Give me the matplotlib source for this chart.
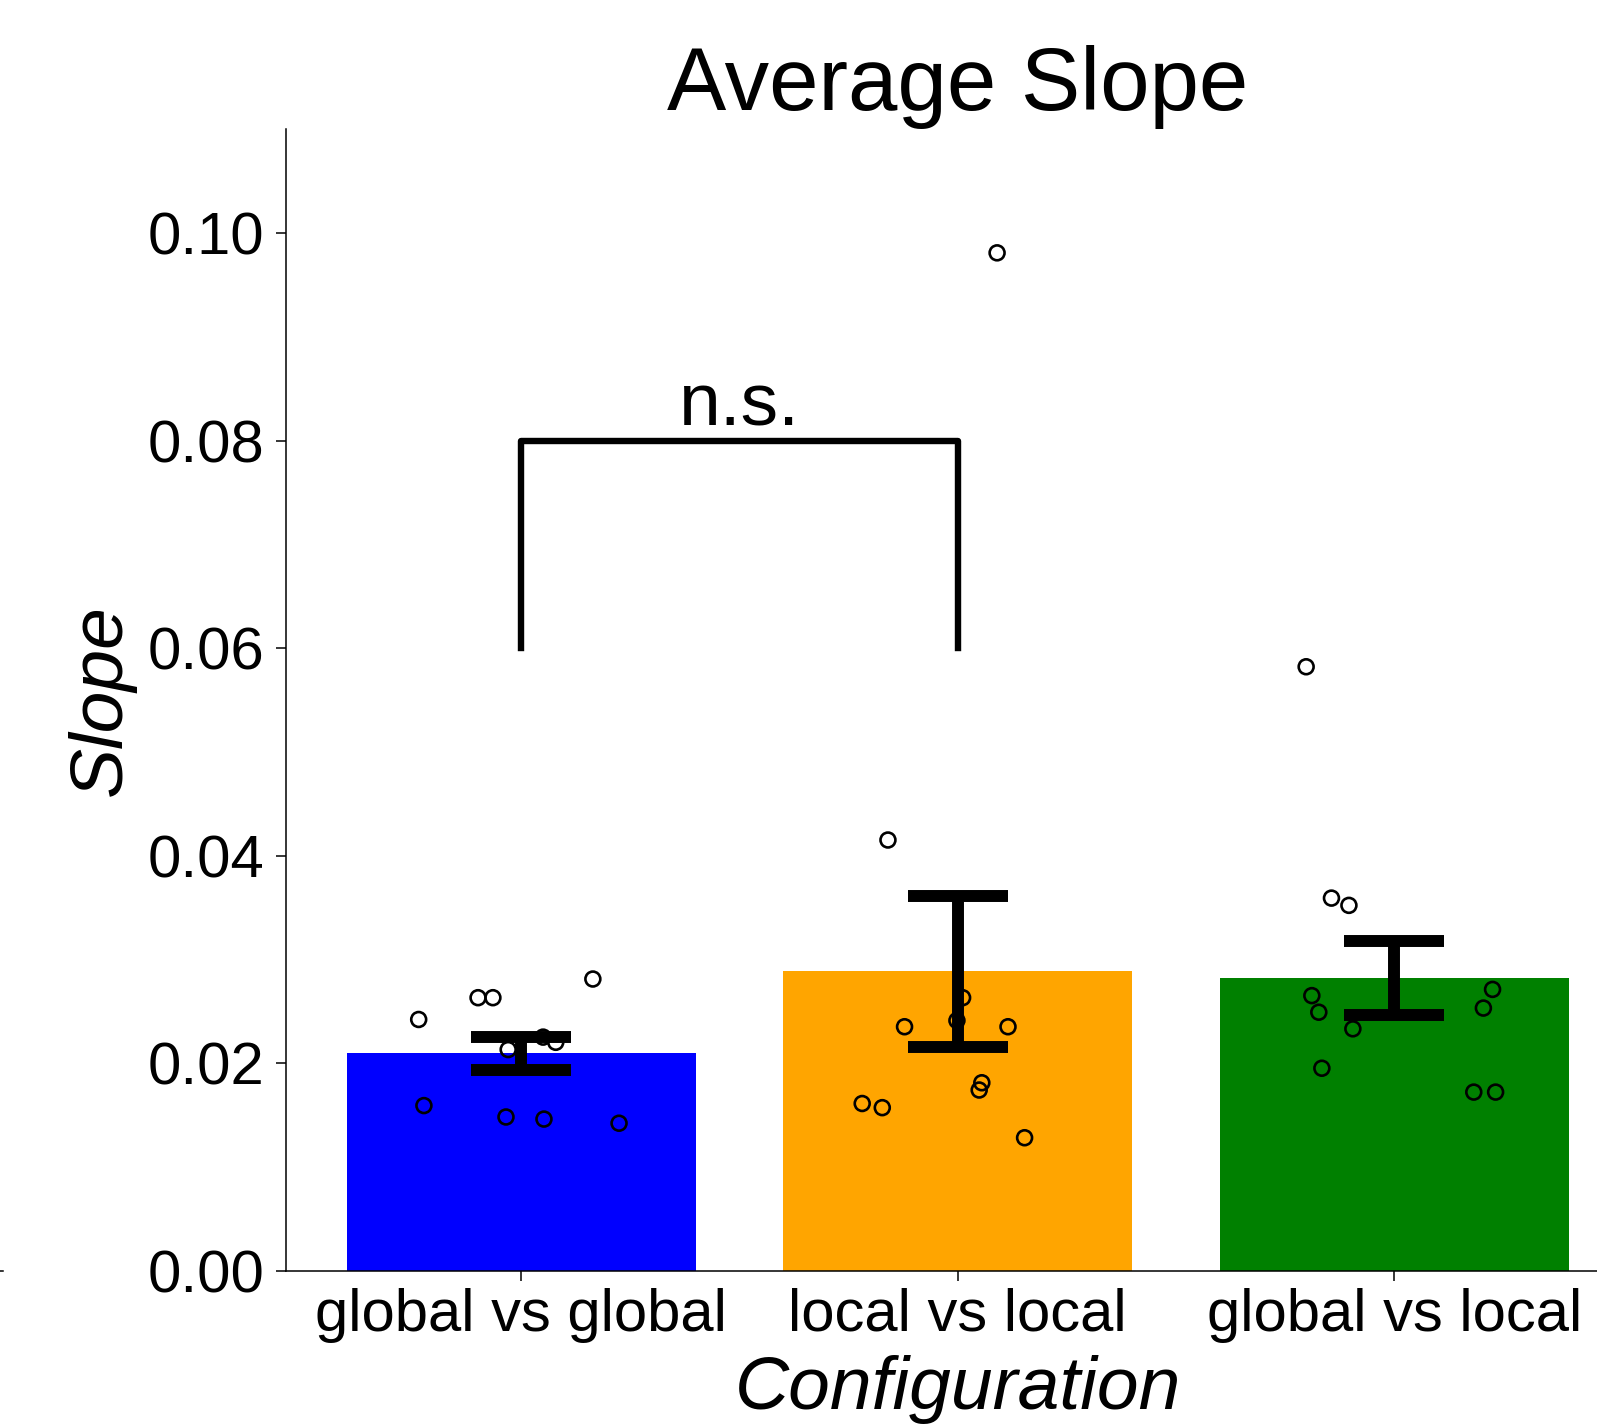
import matplotlib

matplotlib.use("Agg")

import matplotlib.pyplot as plt
import numpy as np
from matplotlib.lines import Line2D

plt.rcParams["font.family"] = ["Liberation Sans", "DejaVu Sans"]

configs = ["global vs global", "local vs local", "global vs local"]
bar_colors = ["blue", "orange", "green"]

# per-subject slopes and the horizontal jitter used for the dots
gg_slope = [0.0242, 0.0263, 0.0263, 0.0281, 0.0213, 0.0225, 0.0220, 0.0159, 0.0148, 0.0146, 0.0142]
gg_jitter = [-0.235, -0.099, -0.065, 0.164, -0.030, 0.050, 0.079, -0.223, -0.035, 0.052, 0.224]

ll_slope = [0.0415, 0.0263, 0.0241, 0.0235, 0.0235, 0.0181, 0.0174, 0.0161, 0.0157, 0.0128, 0.0981]
ll_jitter = [-0.160, 0.011, -0.002, -0.122, 0.115, 0.055, 0.049, -0.219, -0.173, 0.153, 0.090]

gl_slope = [0.0582, 0.0359, 0.0352, 0.0265, 0.0249, 0.0233, 0.0195, 0.0271, 0.0253, 0.0172, 0.0172]
gl_jitter = [-0.202, -0.144, -0.104, -0.189, -0.173, -0.095, -0.166, 0.225, 0.204, 0.182, 0.232]

groups = [gg_slope, ll_slope, gl_slope]
jitters = [gg_jitter, ll_jitter, gl_jitter]

means = [np.mean(g) for g in groups]
sems = [np.std(g, ddof=1) / np.sqrt(len(g)) for g in groups]

fig = plt.figure(figsize=(15.97, 14.25), dpi=100)
ax = fig.add_axes([0.1788, 0.1084, 0.8419, 0.8008])

x = np.arange(len(configs))
ax.bar(x, means, width=0.8, color=bar_colors, zorder=1)
ax.errorbar(x, means, yerr=sems, fmt="none", ecolor="black", elinewidth=8.6,
            capsize=36, capthick=8.6, zorder=3)

for i, (vals, jit) in enumerate(zip(groups, jitters)):
    ax.scatter(i + np.array(jit), vals, s=115, facecolors="none", edgecolors="black",
               linewidths=1.9, zorder=4)

# significance bracket
ax.plot([0, 0, 1, 1], [0.06, 0.08, 0.08, 0.06], color="black", lw=4.6, zorder=2)
ax.text(0.5, 0.08, "n.s.", ha="center", va="bottom", fontsize=54)

ax.set_xlim(-0.54, 2.54)
ax.set_ylim(0, 0.11)
ax.set_yticks([0.0, 0.02, 0.04, 0.06, 0.08, 0.10])
ax.set_yticklabels([f"{v:.2f}" for v in [0.0, 0.02, 0.04, 0.06, 0.08, 0.10]])
ax.set_xticks(x)
ax.set_xticklabels(configs)
ax.tick_params(axis="both", labelsize=43, length=7, width=1.1)
ax.tick_params(axis="y", pad=8)
ax.tick_params(axis="x", pad=5.5)

ax.spines["top"].set_visible(False)
ax.spines["right"].set_visible(False)
ax.spines["left"].set_linewidth(1.1)
ax.spines["bottom"].set_linewidth(1.1)

ax.set_title("Average Slope", fontsize=64, pad=14)
ax.set_ylabel("Slope", fontsize=54, style="italic")
ax.yaxis.set_label_coords(-0.111, 0.5)
ax.set_xlabel("Configuration", fontsize=54, style="italic", labelpad=9)

# stray tick from the neighbouring panel at the left edge
y0 = ax.transAxes.transform((0, 0))[1] / fig.bbox.height
fig.add_artist(Line2D([0, 3 / 1597], [y0, y0], color="black", lw=1.1))

fig.savefig("out.png", dpi=100)
plt.close(fig)
